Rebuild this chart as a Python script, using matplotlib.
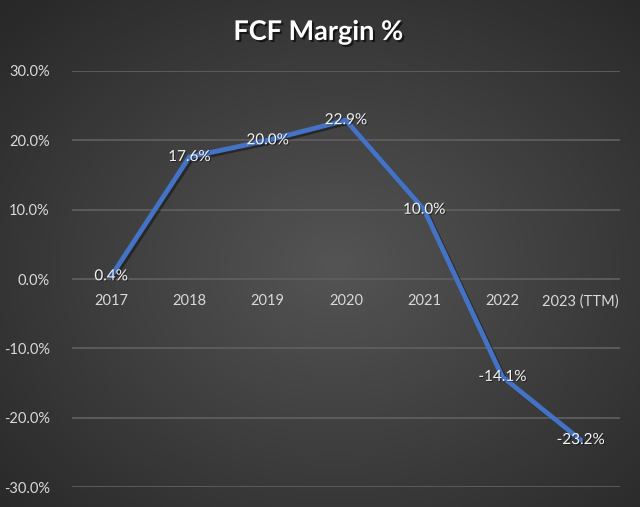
import numpy as np
import matplotlib.pyplot as plt
import matplotlib.patheffects as pe

years = ['2017', '2018', '2019', '2020', '2021', '2022', '2023 (TTM)']
fcf_margin = [0.4, 17.6, 20.0, 22.9, 10.0, -14.1, -23.2]
y_ticks = [-30, -20, -10, 0, 10, 20, 30]

plt.rcParams['font.family'] = ['Lato', 'DejaVu Sans']

fig = plt.figure(figsize=(6.4, 5.07), dpi=100)

# radial background gradient
bg = fig.add_axes([0, 0, 1, 1], zorder=0)
gx, gy = np.meshgrid(np.linspace(-1, 1, 320), np.linspace(-1, 1, 254))
r = np.sqrt(((gx - 0.05) / 1.1) ** 2 + ((gy + 0.05) / 1.1) ** 2)
shade = 0.33 - 0.17 * np.clip(r, 0, 1.3) / 1.3
bg.imshow(np.dstack([shade] * 3), extent=[0, 1, 0, 1], aspect='auto', origin='lower')
bg.axis('off')

ax = fig.add_axes([0.1125, 0.039, 0.856, 0.821], zorder=1)
ax.patch.set_alpha(0)

x = np.arange(len(years))
shadow = [pe.SimpleLineShadow(offset=(1.5, -1.5), shadow_color='black', alpha=0.4), pe.Normal()]
ax.plot(x, fcf_margin, color='#4472C4', linewidth=3.5, solid_capstyle='round',
        solid_joinstyle='round', path_effects=shadow, zorder=3)

for xi, v in zip(x, fcf_margin):
    ax.text(xi, v, f'{v:.1f}%', ha='center', va='center', color='#f2f2f2',
            fontsize=11, zorder=4,
            path_effects=[pe.withSimplePatchShadow(offset=(0.8, -0.8), shadow_rgbFace='black', alpha=0.4)])

ax.set_xlim(-0.5, len(years) - 0.5)
ax.set_ylim(-30, 30)
ax.set_yticks(y_ticks)
ax.set_yticklabels([f'{t:.1f}%' for t in y_ticks])
ax.grid(axis='y', color='#5e5e5e', linewidth=1.3)
ax.set_axisbelow(True)

for s in ['top', 'right', 'left']:
    ax.spines[s].set_visible(False)
ax.spines['bottom'].set_position(('data', 0))
ax.spines['bottom'].set_visible(False)
ax.set_xticks(x)
ax.set_xticklabels(years)
ax.tick_params(axis='x', length=0, pad=11, colors='#d9d9d9', labelsize=10.5)
ax.tick_params(axis='y', length=0, pad=16, colors='#d9d9d9', labelsize=10.5)

fig.text(0.497, 0.937, 'FCF Margin %', ha='center', va='center', color='white',
         fontsize=19.5, fontweight='bold',
         path_effects=[pe.withSimplePatchShadow(offset=(1.5, -1.5), shadow_rgbFace='black', alpha=0.6)])

fig.savefig('out.png', dpi=100)
